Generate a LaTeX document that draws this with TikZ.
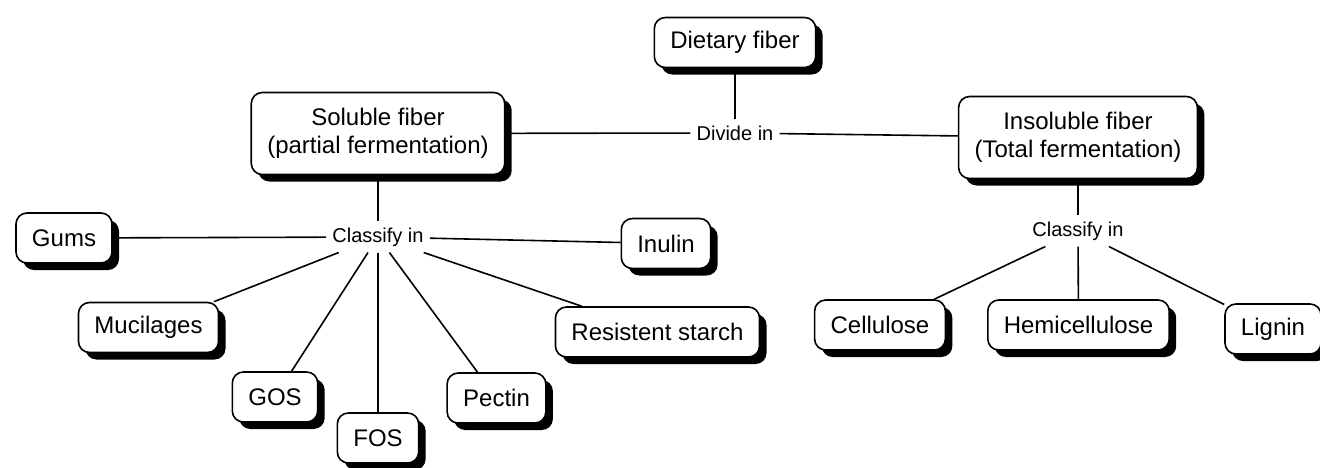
\documentclass[tikz,border=0pt]{standalone}
\usepackage{fontspec}
\setmainfont{Liberation Sans}
\usetikzlibrary{shadows}

\tikzset{
    box/.style={draw, line width=1.6pt, fill=white, rounded corners=11pt,
        font=\fontsize{24}{28}\selectfont, align=center,
        inner xsep=16pt, inner ysep=2pt, minimum height=50pt,
        drop shadow={shadow xshift=7pt, shadow yshift=-7pt, fill=black, opacity=1}},
    twoline/.style={box, minimum height=82pt},
    linkword/.style={font=\fontsize{20}{24}\selectfont, inner sep=6pt},
    wire/.style={line width=1.6pt}
}

\begin{document}
\begin{tikzpicture}[x=1pt, y=-1pt]
    \useasboundingbox[fill=white] (0,0) rectangle (1320,467);

    % Top level
    \node[box] (diet) at (735,42.5) {Dietary fiber};
    \node[linkword] (divide) at (735,133) {Divide in};
    \node[twoline] (soluble) at (378,133.5) {Soluble fiber\\(partial fermentation)};
    \node[twoline] (insoluble) at (1078,137.5) {Insoluble fiber\\(Total fermentation)};

    % Soluble branch
    \node[linkword] (classL) at (378,237) {Classify in};
    \node[box] (gums) at (64,238) {Gums};
    \node[box] (inulin) at (666,243.5) {Inulin};
    \node[box] (mucil) at (148.5,327.5) {Mucilages};
    \node[box] (gos) at (275,397) {GOS};
    \node[box] (fos) at (378,438) {FOS};
    \node[box] (pectin) at (496.5,398) {Pectin};
    \node[box] (starch) at (657.5,332) {Resistent starch};

    % Insoluble branch
    \node[linkword] (classR) at (1078,231) {Classify in};
    \node[box] (cellu) at (880,325) {Cellulose};
    \node[box] (hemi) at (1078.5,325) {Hemicellulose};
    \node[box] (lignin) at (1273,329) {Lignin};

    % Connectors
    \draw[wire] (diet) -- (divide);
    \draw[wire] (soluble) -- (divide);
    \draw[wire] (divide) -- (insoluble);

    \draw[wire] (soluble) -- (classL);
    \foreach \leaf in {gums, inulin, mucil, gos, fos, pectin, starch} {
        \draw[wire] (classL) -- (\leaf);
    }

    \draw[wire] (insoluble) -- (classR);
    \foreach \leaf in {cellu, hemi, lignin} {
        \draw[wire] (classR) -- (\leaf);
    }
\end{tikzpicture}
\end{document}
